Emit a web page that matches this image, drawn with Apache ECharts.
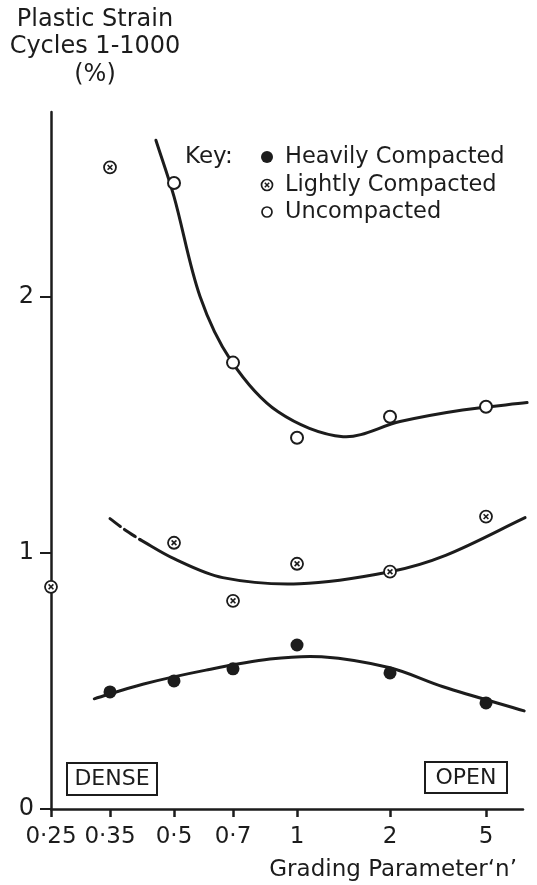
<!DOCTYPE html>
<html>
<head>
<meta charset="utf-8">
<script src="https://cdn.jsdelivr.net/npm/echarts@6/dist/echarts.min.js"></script>
<style>
  html, body { margin: 0; padding: 0; background: #ffffff; }
  #chart { width: 537px; height: 885px; }
</style>
</head>
<body>
<div id="chart"></div>
<script>
// Grading parameter n: printed values and where each sits along the (non-uniform) x axis
const nTicks = [0.25, 0.35, 0.5, 0.7, 1, 2, 5];
const tickLabels = ['0·25', '0·35', '0·5', '0·7', '1', '2', '5'];
const tickPos = [0, 1, 2.085, 3.085, 4.17, 5.746, 7.373];
const axisEnd = 8.0;

// Measured plastic strain, cycles 1-1000 (%)
const heavyN = [0.35, 0.5, 0.7, 1, 2, 5];
const heavyStrain = [0.457, 0.50, 0.547, 0.64, 0.531, 0.414];
const lightN = [0.25, 0.35, 0.5, 0.7, 1, 2, 5];
const lightStrain = [0.867, 2.504, 1.039, 0.8125, 0.957, 0.926, 1.141];
const unN = [0.5, 0.7, 1, 2, 5];
const unStrain = [2.443, 1.742, 1.449, 1.531, 1.570];

// Hand-fitted trend curves [n, strain]
const heavyFit = [[0.32, 0.43], [0.42, 0.487], [0.6, 0.542], [0.86, 0.585], [1.2, 0.594], [2, 0.551], [3.32, 0.477], [7.2, 0.383]];
const lightFitDashed = [[0.35, 1.133], [0.38, 1.09], [0.414, 1.051]];
const lightFit = [[0.414, 1.051], [0.5, 0.977], [0.66, 0.903], [1.02, 0.879], [2, 0.926], [3.4, 0.99], [7.26, 1.137]];
const unFit = [[0.452, 2.61], [0.5, 2.39], [0.58, 2.0], [0.692, 1.75], [0.9, 1.55], [1.41, 1.453], [2.2, 1.512], [4.0, 1.557], [7.4, 1.586]];

const ink = '#1c1c1c';
const font = 'DejaVu Sans';

// Position along the x axis: log-interpolated between the printed grading values
function toPos(n) {
  let i = 0;
  while (i < nTicks.length - 2 && n > nTicks[i + 1]) i++;
  const f = Math.log(n / nTicks[i]) / Math.log(nTicks[i + 1] / nTicks[i]);
  return tickPos[i] + f * (tickPos[i + 1] - tickPos[i]);
}
const pts = (ns, vs) => ns.map((n, i) => [toPos(n), vs[i]]);
const fit = arr => arr.map(([n, v]) => [toPos(n), v]);

// Smooth pen stroke through the fitted points (chord-length Hermite → cubic Béziers)
function smoothPath(p) {
  const d = [];
  for (let i = 0; i < p.length - 1; i++) d.push(Math.hypot(p[i + 1][0] - p[i][0], p[i + 1][1] - p[i][1]));
  const t = p.map((_, i) => {
    const a = p[Math.max(i - 1, 0)], b = p[Math.min(i + 1, p.length - 1)];
    const len = (i > 0 ? d[i - 1] : 0) + (i < d.length ? d[i] : 0);
    return [(b[0] - a[0]) / len, (b[1] - a[1]) / len];
  });
  let s = 'M' + p[0][0] + ' ' + p[0][1];
  for (let i = 0; i < p.length - 1; i++) {
    const k = d[i] / 3;
    s += ' C' + (p[i][0] + t[i][0] * k) + ' ' + (p[i][1] + t[i][1] * k) + ' ' +
      (p[i + 1][0] - t[i + 1][0] * k) + ' ' + (p[i + 1][1] - t[i + 1][1] * k) + ' ' +
      p[i + 1][0] + ' ' + p[i + 1][1];
  }
  return s;
}

function curve(data, dashed) {
  const values = fit(data);
  return {
    type: 'custom', data: values, silent: true, z: 2,
    renderItem: (params, api) => {
      if (params.dataIndex !== 0) return null;
      const px = values.map(v => api.coord(v));
      return {
        type: 'path', shape: { pathData: smoothPath(px) },
        style: { fill: 'none', stroke: ink, lineWidth: 3, lineCap: 'round', lineDash: dashed ? [13, 5] : null }
      };
    }
  };
}

const chart = echarts.init(document.getElementById('chart'), null, { renderer: 'canvas' });
chart.setOption({
  backgroundColor: '#ffffff',
  animation: false,
  grid: { left: 51, right: 14, top: 112, bottom: 76 },
  xAxis: {
    type: 'value', min: 0, max: axisEnd,
    splitLine: { show: false },
    axisLine: { show: true, lineStyle: { color: ink, width: 2.5 } },
    axisTick: { show: true, customValues: tickPos, length: 8, lineStyle: { color: ink, width: 2.5 } },
    axisLabel: {
      customValues: tickPos, margin: 17, color: ink, fontSize: 23, fontFamily: font,
      formatter: v => {
        const i = tickPos.findIndex(p => Math.abs(p - v) < 1e-6);
        return i >= 0 ? tickLabels[i] : '';
      }
    }
  },
  yAxis: {
    type: 'value', min: 0, max: 2.72,
    splitLine: { show: false },
    axisLine: { show: true, lineStyle: { color: ink, width: 2.5 } },
    axisTick: { show: true, customValues: [0, 1, 2], length: 11, lineStyle: { color: ink, width: 2 } },
    axisLabel: { customValues: [0, 1, 2], margin: 17, color: ink, fontSize: 24, fontFamily: font }
  },
  series: [
    curve(heavyFit),
    curve(lightFitDashed, true),
    curve(lightFit),
    curve(unFit),
    {
      name: 'Heavily Compacted', type: 'scatter', data: pts(heavyN, heavyStrain),
      symbol: 'circle', symbolSize: 13, z: 5, itemStyle: { color: ink, opacity: 1 }
    },
    {
      name: 'Uncompacted', type: 'scatter', data: pts(unN, unStrain),
      symbol: 'circle', symbolSize: 12, z: 5,
      itemStyle: { color: '#ffffff', borderColor: ink, borderWidth: 2, opacity: 1 }
    },
    {
      name: 'Lightly Compacted', type: 'custom', data: pts(lightN, lightStrain), z: 5,
      renderItem: (params, api) => {
        const p = api.coord([api.value(0), api.value(1)]);
        const d = 2.4;
        return {
          type: 'group', children: [
            { type: 'circle', shape: { cx: p[0], cy: p[1], r: 6 }, style: { fill: '#ffffff', stroke: ink, lineWidth: 1.8 } },
            { type: 'line', shape: { x1: p[0] - d, y1: p[1] - d, x2: p[0] + d, y2: p[1] + d }, style: { stroke: ink, lineWidth: 1.6 } },
            { type: 'line', shape: { x1: p[0] - d, y1: p[1] + d, x2: p[0] + d, y2: p[1] - d }, style: { stroke: ink, lineWidth: 1.6 } }
          ]
        };
      }
    }
  ],
  graphic: [
    // y-axis title
    { type: 'text', x: 95, y: 6, style: {
        text: 'Plastic Strain\nCycles 1-1000\n(%)', align: 'center', verticalAlign: 'top',
        lineHeight: 27.5, fontSize: 24, fontFamily: font, fill: ink } },
    // x-axis title
    { type: 'text', x: 517, y: 870, style: {
        text: 'Grading Parameter‘n’', align: 'right', verticalAlign: 'middle',
        fontSize: 23, fontFamily: font, fill: ink } },
    // key
    { type: 'text', x: 185, y: 157, style: { text: 'Key:', verticalAlign: 'middle', fontSize: 23, fontFamily: font, fill: ink } },
    { type: 'circle', shape: { cx: 267, cy: 157, r: 6 }, style: { fill: ink } },
    { type: 'circle', shape: { cx: 267, cy: 185, r: 5.5 }, style: { fill: '#fff', stroke: ink, lineWidth: 1.7 } },
    { type: 'line', shape: { x1: 264.8, y1: 182.8, x2: 269.2, y2: 187.2 }, style: { stroke: ink, lineWidth: 1.5 } },
    { type: 'line', shape: { x1: 264.8, y1: 187.2, x2: 269.2, y2: 182.8 }, style: { stroke: ink, lineWidth: 1.5 } },
    { type: 'circle', shape: { cx: 267, cy: 212, r: 5 }, style: { fill: '#fff', stroke: ink, lineWidth: 1.7 } },
    { type: 'text', x: 285, y: 157, style: { text: 'Heavily Compacted', verticalAlign: 'middle', fontSize: 22.5, fontFamily: font, fill: ink } },
    { type: 'text', x: 285, y: 185, style: { text: 'Lightly Compacted', verticalAlign: 'middle', fontSize: 22.5, fontFamily: font, fill: ink } },
    { type: 'text', x: 285, y: 212, style: { text: 'Uncompacted', verticalAlign: 'middle', fontSize: 22.5, fontFamily: font, fill: ink } },
    // end labels
    { type: 'rect', shape: { x: 67, y: 763, width: 90, height: 32 }, style: { fill: 'none', stroke: ink, lineWidth: 2 } },
    { type: 'text', x: 112, y: 779.5, style: { text: 'DENSE', align: 'center', verticalAlign: 'middle', fontSize: 22, fontFamily: font, fill: ink } },
    { type: 'rect', shape: { x: 425, y: 762, width: 82, height: 31 }, style: { fill: 'none', stroke: ink, lineWidth: 2 } },
    { type: 'text', x: 466, y: 778, style: { text: 'OPEN', align: 'center', verticalAlign: 'middle', fontSize: 22, fontFamily: font, fill: ink } }
  ]
});
</script>
</body>
</html>
